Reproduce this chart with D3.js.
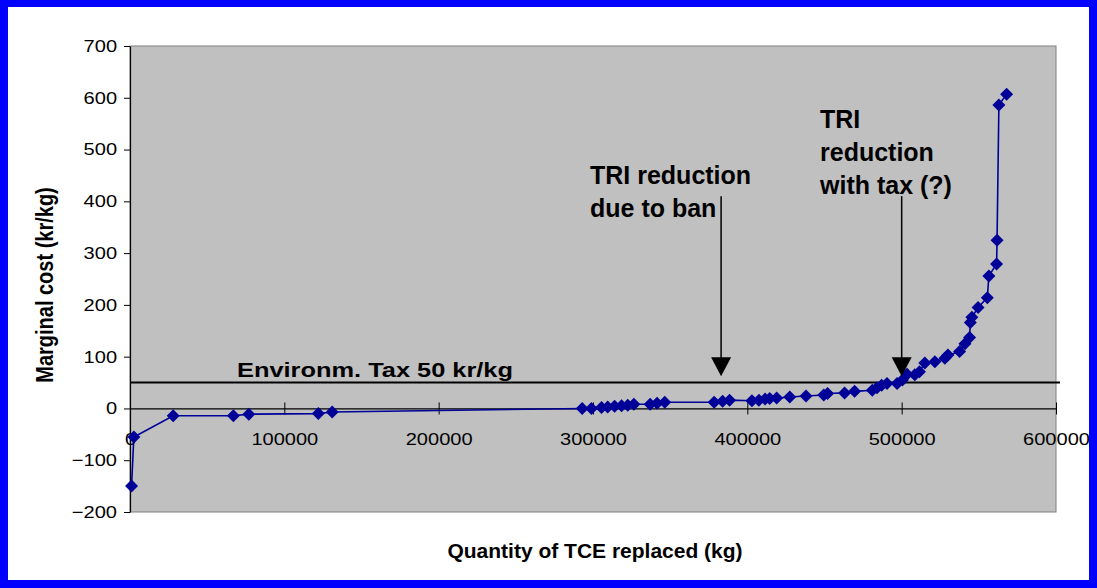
<!DOCTYPE html>
<html>
<head>
<meta charset="utf-8">
<script src="https://cdn.jsdelivr.net/npm/d3@7"></script>
<style>
  html, body { margin: 0; padding: 0; background: #0000ff; }
  svg { display: block; }
  text { font-family: "Liberation Sans", Arial, sans-serif; fill: #000; }
</style>
</head>
<body>
<svg id="chart" width="1097" height="588"></svg>
<script>
// Marginal cost curve for substituting TCE (quantity replaced in kg, cost in kr/kg)
const quantityKg = [
  1000, 2500, 28000, 67000, 77000, 122000, 131000,
  293000, 299000, 305500, 309500, 314000, 318500, 322500, 326500,
  337000, 341500, 346500, 378500, 384000, 388500,
  403000, 407500, 411500, 414500, 419000, 427500, 438000,
  449500, 452000, 463000, 469500, 481000, 484000, 487000, 490500,
  497000, 500500, 503500, 508500, 511500, 515000, 521500, 528000,
  530000, 537500, 541000, 544000, 544500, 545500, 549500, 555500,
  556500, 561500, 561800, 563000, 568000
];
const marginalCost = [
  -150, -55, -14, -14, -11, -10, -7,
  0, 0, 2, 3, 4, 5, 6, 8,
  8, 10, 12, 12, 14, 16,
  15, 16, 18, 19, 20, 22, 24,
  26, 29, 30, 33, 35, 40, 45, 48,
  48, 55, 66, 65, 71, 88, 90, 97,
  103, 110, 125, 137, 166, 176, 195, 214,
  256, 279, 325, 586, 607
];

const xTickValues = [0, 100000, 200000, 300000, 400000, 500000, 600000];
const yTickValues = [-200, -100, 0, 100, 200, 300, 400, 500, 600, 700];

// Annotations
const taxValue = 50;
const taxLabel = "Environm. Tax 50 kr/kg";
const banLines = ["TRI reduction", "due to ban"];
const banArrowX = 383000;
const taxLines = ["TRI", "reduction", "with tax (?)"];
const taxArrowX = 500000;
const arrowTop = 410;
const arrowTip = 62;

const xTitle = "Quantity of TCE replaced (kg)";
const yTitle = "Marginal cost (kr/kg)";

const svg = d3.select("#chart");
const W = 1097, H = 588;

// white panel inside the blue frame
svg.append("rect")
  .attr("x", 8).attr("y", 7)
  .attr("width", W - 16).attr("height", H - 15)
  .attr("fill", "#ffffff");

const plot = { left: 130, top: 46, right: 1056, bottom: 512 };

const x = d3.scaleLinear().domain([0, 600000]).range([plot.left, plot.right]);
const y = d3.scaleLinear().domain([-200, 700]).range([plot.bottom, plot.top]);

// plot area
svg.append("rect")
  .attr("x", plot.left).attr("y", plot.top)
  .attr("width", plot.right - plot.left)
  .attr("height", plot.bottom - plot.top)
  .attr("fill", "#c0c0c0")
  .attr("stroke", "#808080")
  .attr("stroke-width", 1);

// y axis
const yAxis = svg.append("g")
  .attr("transform", `translate(${plot.left},0)`)
  .call(d3.axisLeft(y).tickValues(yTickValues).tickSize(6).tickSizeOuter(0).tickFormat(d3.format("d")));
yAxis.select(".domain").attr("stroke", "#000").attr("stroke-width", 1.2);
yAxis.selectAll(".tick line").attr("stroke", "#000");
yAxis.selectAll(".tick text")
  .attr("x", -11)
  .attr("transform", "scale(1.18,1)")
  .style("font-size", "17px")
  .style("font-family", "'Liberation Sans', Arial, sans-serif")
  .attr("fill", "#000");

// x axis drawn along zero cost, ticks crossing the line
const xAxis = svg.append("g")
  .attr("transform", `translate(0,${y(0)})`)
  .call(d3.axisBottom(x).tickValues(xTickValues).tickSize(6).tickSizeOuter(0).tickFormat(d3.format("d")));
xAxis.select(".domain").attr("stroke", "#000").attr("stroke-width", 1.2);
xAxis.selectAll(".tick line").attr("y1", -6).attr("y2", 6).attr("stroke", "#000");
xAxis.selectAll(".tick text")
  .attr("y", 37).attr("dy", "0")
  .attr("transform", "scale(1.18,1)")
  .style("font-size", "17px")
  .style("font-family", "'Liberation Sans', Arial, sans-serif")
  .attr("fill", "#000");

// tax level line
svg.append("line")
  .attr("x1", plot.left).attr("x2", plot.right + 4)
  .attr("y1", y(taxValue)).attr("y2", y(taxValue))
  .attr("stroke", "#000").attr("stroke-width", 2);
svg.append("text")
  .attr("x", 237).attr("y", y(taxValue) - 6)
  .attr("textLength", 276).attr("lengthAdjust", "spacingAndGlyphs")
  .style("font-size", "19.5px").style("font-weight", "bold")
  .text(taxLabel);

// cost curve
const pts = quantityKg.map((q, i) => [q, marginalCost[i]]);
svg.append("path")
  .datum(pts)
  .attr("fill", "none")
  .attr("stroke", "#000099")
  .attr("stroke-width", 1.6)
  .attr("d", d3.line().x(d => x(d[0])).y(d => y(d[1])));

svg.append("g").selectAll("path")
  .data(pts)
  .join("path")
  .attr("transform", d => `translate(${x(d[0])},${y(d[1])})`)
  .attr("d", "M0,-6.5L6.5,0L0,6.5L-6.5,0Z")
  .attr("fill", "#000099");

// annotation arrows
function arrow(xv) {
  const ax = x(xv);
  const tipY = y(arrowTip);
  svg.append("line")
    .attr("x1", ax).attr("x2", ax)
    .attr("y1", y(arrowTop)).attr("y2", tipY - 18)
    .attr("stroke", "#000").attr("stroke-width", 1.5);
  svg.append("path")
    .attr("d", `M${ax - 10},${tipY - 19}L${ax + 10},${tipY - 19}L${ax},${tipY}Z`)
    .attr("fill", "#000");
}
arrow(banArrowX);
arrow(taxArrowX);

svg.append("g").selectAll("text")
  .data(banLines)
  .join("text")
  .attr("x", 590).attr("y", (d, i) => 184 + i * 33)
  .style("font-size", "25px").style("font-weight", "bold")
  .text(d => d);

svg.append("g").selectAll("text")
  .data(taxLines)
  .join("text")
  .attr("x", 820).attr("y", (d, i) => 128 + i * 33)
  .style("font-size", "25px").style("font-weight", "bold")
  .text(d => d);

// axis titles
svg.append("text")
  .attr("x", 595).attr("y", 558)
  .attr("text-anchor", "middle")
  .style("font-size", "21px").style("font-weight", "bold")
  .text(xTitle);

svg.append("text")
  .attr("transform", "translate(53,285) scale(1.15,1) rotate(-90)")
  .attr("text-anchor", "middle")
  .style("font-size", "20px").style("font-weight", "bold")
  .text(yTitle);
</script>
</body>
</html>
